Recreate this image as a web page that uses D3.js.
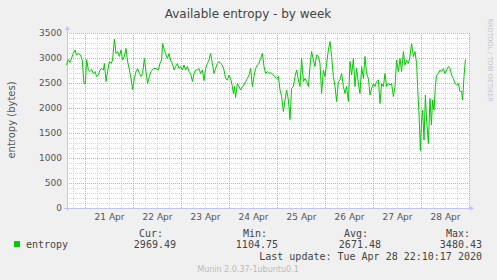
<!DOCTYPE html>
<html>
<head>
<meta charset="utf-8">
<script src="https://cdn.jsdelivr.net/npm/d3@7"></script>
<style>
  body { margin: 0; background: #f0f0f0; }
  svg { display: block; font-family: "DejaVu Sans", sans-serif; }
</style>
</head>
<body>
<svg id="svg" width="497" height="280"></svg>
<script>
// hours after 21 Apr 2020 00:00
var hours = [-9.2,-8.4,-7.5,-5.9,-5,-4.2,-3.4,-2.2,-1.4,-0.5,0.2,0.8,1.7,2.5,3.3,4.2,5,5.8,6.7,7.5,8.3,9.2,9.7,10.5,11.3,12.2,13,13.8,14.7,15.5,16.3,17.2,18,18.8,19.7,20.5,21.3,22.2,23,23.8,24.7,25.5,26.3,27.2,28,28.8,29.7,30.5,31.3,32.2,33,34.2,35.5,36.7,37.5,38.3,38.8,39.5,40.3,41.2,42,42.8,43.7,44.5,45.3,46.2,47,47.8,48.7,49.5,50.3,51.2,52,52.8,53.7,54.5,55.3,56.2,57,57.8,58.7,59.5,60.3,61.2,62,62.8,63.7,64.5,65.3,66.2,67,67.8,68.7,69.5,70.3,71.2,72,72.8,73.7,74.2,74.7,75.3,76.2,77,77.8,78.7,79.5,80.3,81.2,82,82.8,83.7,84.5,85.3,86.2,87,87.8,88.7,89.5,90.3,91.2,92,92.8,94.2,95.8,96.7,97.5,98.3,99.2,100,100.8,101.7,102.5,103.3,104.2,105,105.8,106.7,107.5,108.3,109.2,110,110.8,111.7,112.5,113.3,114.2,115,115.8,116.7,117.5,118.3,119.2,120,120.8,121.7,122.5,123.3,124.2,125,125.8,126.7,127.5,128.3,129.2,130,130.8,131.7,132.5,133.3,134.2,135,135.8,136.7,137.5,138.3,139.2,140,140.8,141.7,142.5,143.3,144.2,145,145.8,146.7,147.5,148.3,149.2,150,150.8,151.7,152.5,153.3,154.2,155,155.8,156.7,157.5,158.3,159.2,160,160.8,161.7,162.5,163.3,164.2,165,165.8,166.3,167,167.7,168.3,168.8,169.5,170.2,170.8,171.7,172.5,173.2,173.8,174.5,175.2,175.8,176.7,177.5,178.3,179.2,180,180.8,181.7,182.5,183.3,184.2,185,185.8,186.7,187.5,188.3,188.8,189.5,190.2];
var entropy = [2860,2970,2910,3090,3160,3060,3090,3060,2960,2490,2480,2970,2760,2730,2770,2690,2730,2630,2660,2760,2790,2760,2890,2530,2730,2930,2890,2960,3380,3090,3130,3030,3160,2960,3030,3190,2930,2760,2590,2370,2590,2730,2790,2690,2630,2690,2990,2730,2490,2630,2730,2790,2790,2760,2890,2960,3290,3190,3090,2990,3090,2960,2890,2760,2830,2890,2790,2830,2760,2860,2760,2830,2730,2690,2530,2690,2760,2760,2790,2690,2760,2550,2790,2890,2960,3090,2890,2690,2790,2890,2930,2890,2860,2760,2590,2560,2660,2590,2430,2290,2430,2210,2490,2430,2360,2430,2460,2530,2590,2660,2790,2430,2630,2790,2860,2890,2990,3090,2830,2690,2730,2690,2710,2660,2590,2630,2360,2230,1930,2160,2360,2160,1770,2390,2430,2630,2760,2560,2430,2990,2530,2590,2530,2430,2830,3130,2960,2830,3060,3030,2890,2290,2760,2630,2890,3160,3330,3030,2630,2430,2130,2530,2560,2690,2430,2290,2430,2130,2930,2660,2990,2430,2790,2490,2290,2830,2590,3030,2690,2590,2260,2390,2490,2430,2530,2560,2090,2490,2430,2690,2430,2490,2460,2490,2230,2430,2960,2730,2990,2730,3130,2860,2960,2890,3030,3290,3030,3130,2890,2430,1890,1150,1760,1960,1360,2260,1760,1290,2190,1660,2160,1960,2430,2660,2690,2760,2730,2790,2690,2760,2830,2790,2660,2590,2490,2460,2490,2330,2330,2160,2630,2969];
var dayLabels = ["21 Apr","22 Apr","23 Apr","24 Apr","25 Apr","26 Apr","27 Apr","28 Apr"];
var legendHeads = ["Cur:","Min:","Avg:","Max:"];
var legendValues = ["2969.49","1104.75","2671.48","3480.43"];

var svg = d3.select("#svg");
var plot = { left: 67, right: 469, top: 33, bottom: 208 };
var day0 = new Date(2020, 3, 21);
var toDate = function (h) { return new Date(day0.getTime() + h * 3600e3); };

var xScale = d3.scaleTime()
  .domain([toDate(-9), toDate(192)])
  .range([plot.left, plot.right]);
var yScale = d3.scaleLinear()
  .domain([0, 3500])
  .range([plot.bottom, plot.top]);

// canvas
svg.append("rect")
  .attr("x", plot.left).attr("y", plot.top)
  .attr("width", plot.right - plot.left).attr("height", plot.bottom - plot.top)
  .attr("fill", "#ffffff");

var grid = svg.append("g").attr("shape-rendering", "crispEdges");

//minor grid
grid.selectAll(".vmin")
  .data(d3.timeHour.every(6).range(toDate(-9), toDate(192.1)))
  .enter().append("line")
  .attr("x1", function (d) { return Math.round(xScale(d)) + 0.5; })
  .attr("x2", function (d) { return Math.round(xScale(d)) + 0.5; })
  .attr("y1", plot.top).attr("y2", plot.bottom)
  .attr("stroke", "#d4d4d4").attr("stroke-dasharray", "1,1");
grid.selectAll(".hmin")
  .data(d3.range(100, 3501, 100))
  .enter().append("line")
  .attr("x1", plot.left).attr("x2", plot.right)
  .attr("y1", function (d) { return Math.round(yScale(d)) + 0.5; })
  .attr("y2", function (d) { return Math.round(yScale(d)) + 0.5; })
  .attr("stroke", "#d4d4d4").attr("stroke-dasharray", "1,1");

//major grid
grid.selectAll(".vmaj")
  .data(d3.timeDay.range(toDate(-9), toDate(192.1)))
  .enter().append("line")
  .attr("x1", function (d) { return Math.round(xScale(d)) + 0.5; })
  .attr("x2", function (d) { return Math.round(xScale(d)) + 0.5; })
  .attr("y1", plot.top).attr("y2", plot.bottom)
  .attr("stroke", "#ec9e9e").attr("stroke-dasharray", "1,1");
grid.selectAll(".hmaj")
  .data(d3.range(500, 3501, 500))
  .enter().append("line")
  .attr("x1", plot.left).attr("x2", plot.right)
  .attr("y1", function (d) { return Math.round(yScale(d)) + 0.5; })
  .attr("y2", function (d) { return Math.round(yScale(d)) + 0.5; })
  .attr("stroke", "#ec9e9e").attr("stroke-dasharray", "1,1");

//axes
var yAxis = svg.append("g")
  .attr("transform", "translate(" + plot.left + ",0)")
  .call(d3.axisLeft(yScale).tickValues(d3.range(0, 3501, 500)).tickFormat(d3.format("d")).tickSize(0).tickPadding(5));
yAxis.select(".domain").remove();
yAxis.selectAll("text").attr("font-size", 9).attr("fill", "#555").attr("font-family", "DejaVu Sans");

var xAxis = svg.append("g")
  .attr("transform", "translate(0," + plot.bottom + ")")
  .call(d3.axisBottom(xScale)
    .tickValues(dayLabels.map(function (d, i) { return toDate(12 + 24 * i); }))
    .tickFormat(function (d, i) { return dayLabels[i]; })
    .tickSize(0).tickPadding(6));
xAxis.select(".domain").remove();
xAxis.selectAll("text").attr("font-size", 9).attr("fill", "#555").attr("font-family", "DejaVu Sans");

var axisColor = "#c4c4f4";
svg.append("line").attr("x1", plot.left + 0.5).attr("x2", plot.left + 0.5)
  .attr("y1", plot.bottom + 3).attr("y2", plot.top - 4).attr("stroke", axisColor);
svg.append("line").attr("x1", plot.left - 3).attr("x2", plot.right + 3)
  .attr("y1", plot.bottom + 0.5).attr("y2", plot.bottom + 0.5).attr("stroke", axisColor);
svg.append("path")
  .attr("d", "M" + (plot.left - 2) + "," + (plot.top - 3) + "L" + (plot.left + 0.5) + "," + (plot.top - 7) + "L" + (plot.left + 3) + "," + (plot.top - 3) + "Z")
  .attr("fill", axisColor);
svg.append("path")
  .attr("d", "M" + (plot.right + 1) + "," + (plot.bottom - 2) + "L" + (plot.right + 5) + "," + (plot.bottom + 0.5) + "L" + (plot.right + 1) + "," + (plot.bottom + 3) + "Z")
  .attr("fill", axisColor);

//series
var line = d3.line()
  .x(function (d, i) { return xScale(toDate(hours[i])); })
  .y(function (d) { return yScale(d); });
svg.append("path")
  .datum(entropy)
  .attr("d", line)
  .attr("fill", "none")
  .attr("stroke", "#00cc00")
  .attr("stroke-width", 1);

//texts
svg.append("text").attr("x", 248).attr("y", 18).attr("text-anchor", "middle")
  .attr("font-size", 12).attr("fill", "#444").text("Available entropy - by week");
svg.append("text").attr("transform", "translate(15,120) rotate(-90)").attr("text-anchor", "middle")
  .attr("font-size", 10).attr("fill", "#555").text("entropy (bytes)");
svg.append("text").attr("transform", "translate(488,60) rotate(90)").attr("text-anchor", "middle")
  .attr("font-size", 6.5).attr("fill", "#c4c4c4").text("RRDTOOL / TOBI OETIKER");

//legend
var mono = "DejaVu Sans Mono";
var headEnds = [163, 267, 368, 470];
var valEnds = [176, 278, 381, 482];
svg.append("g").selectAll("text").data(legendHeads).enter().append("text")
  .attr("x", function (d, i) { return headEnds[i]; }).attr("y", 237)
  .attr("text-anchor", "end").attr("font-family", mono).attr("font-size", 10).attr("fill", "#444")
  .text(function (d) { return d; });
svg.append("g").selectAll("text").data(legendValues).enter().append("text")
  .attr("x", function (d, i) { return valEnds[i]; }).attr("y", 248)
  .attr("text-anchor", "end").attr("font-family", mono).attr("font-size", 10).attr("fill", "#444")
  .text(function (d) { return d; });
svg.append("rect").attr("x", 14).attr("y", 241).attr("width", 6).attr("height", 6).attr("fill", "#00cc00");
svg.append("text").attr("x", 26).attr("y", 248).attr("font-family", mono).attr("font-size", 10)
  .attr("fill", "#444").text("entropy");
svg.append("text").attr("x", 482).attr("y", 260).attr("text-anchor", "end").attr("font-family", mono)
  .attr("font-size", 10).attr("fill", "#444").text("Last update: Tue Apr 28 22:10:17 2020");
svg.append("text").attr("x", 248).attr("y", 272).attr("text-anchor", "middle")
  .attr("font-size", 8).attr("fill", "#bbb").text("Munin 2.0.37-1ubuntu0.1");
</script>
</body>
</html>
